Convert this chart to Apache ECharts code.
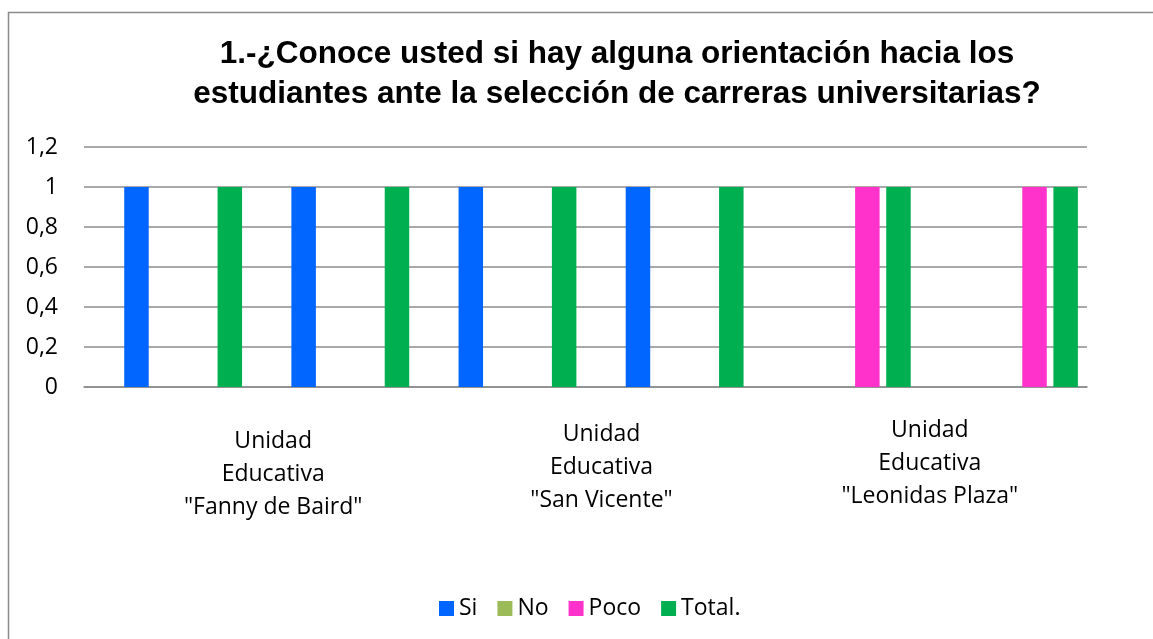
<!DOCTYPE html>
<html>
<head>
<meta charset="utf-8">
<script src="https://cdn.jsdelivr.net/npm/echarts@6/dist/echarts.min.js"></script>
<style>
html,body{margin:0;padding:0;background:#fff;}
#chart{width:1153px;height:639px;}
</style>
</head>
<body>
<div id="chart"></div>
<script>
// Data
const titleText = '1.-¿Conoce usted si hay alguna orientación hacia los\nestudiantes ante la selección de carreras universitarias?';
const rowCategories = ['Fanny de Baird (a)', 'Fanny de Baird (b)', 'San Vicente (a)', 'San Vicente (b)', 'Leonidas Plaza (a)', 'Leonidas Plaza (b)'];
const schoolLabels = ['Unidad\nEducativa\n"Fanny de Baird"', 'Unidad\nEducativa\n"San Vicente"', 'Unidad\nEducativa\n"Leonidas Plaza"'];
const seriesNames = ['Si', 'No', 'Poco', 'Total.'];
const blankValues = [null, null, null, null, null, null];
const siValues = [1, 1, 1, 1, 0, 0];
const noValues = [0, 0, 0, 0, 0, 0];
const pocoValues = [0, 0, 0, 0, 1, 1];
const totalValues = [1, 1, 1, 1, 1, 1];
const yTicks = [0, 0.2, 0.4, 0.6, 0.8, 1, 1.2];

const colors = ['#0066FF', '#9BBB59', '#FF33CC', '#00B050'];
const font = '"Open Sans", "Noto Sans", sans-serif';

const labelShift = [
  {padding: [11, 0, 0, 44]},
  {padding: [4, 0, 0, 32]},
  {padding: [0, 0, 0, 20]}
];

const chart = echarts.init(document.getElementById('chart'), null, {renderer: 'canvas'});

function bar(name, data, color) {
  return {
    name: name, type: 'bar', data: data, xAxisIndex: 0,
    barWidth: 24.5, barGap: '27%',
    itemStyle: {color: color},
    emphasis: {disabled: true}
  };
}

chart.setOption({
  animation: false,
  backgroundColor: '#ffffff',
  title: {
    text: titleText,
    left: 617, top: 34, padding: 0,
    textAlign: 'center',
    textStyle: {fontFamily: '"Liberation Sans", Arial, sans-serif', fontWeight: 'bold', fontSize: 31.5, lineHeight: 40, color: '#000'}
  },
  graphic: [{
    type: 'rect', silent: true,
    shape: {x: 8.5, y: 12.5, width: 1300, height: 800},
    style: {fill: 'none', stroke: '#8a8a8a', lineWidth: 1.5}
  }],
  legend: {
    data: seriesNames,
    left: 434, top: 592,
    icon: 'rect', itemWidth: 15, itemHeight: 15, itemGap: 20,
    textStyle: {fontFamily: font, fontSize: 23, color: '#000'}
  },
  grid: {left: 84, right: 66, top: 147, bottom: 252, containLabel: false},
  xAxis: [{
    type: 'category', data: rowCategories,
    axisLine: {show: true, lineStyle: {color: '#8c8c8c', width: 1.5}},
    axisTick: {show: false}, axisLabel: {show: false}
  }, {
    type: 'category', position: 'bottom',
    data: schoolLabels.map((s, i) => ({value: s, textStyle: labelShift[i]})),
    axisLine: {show: false}, axisTick: {show: false},
    axisLabel: {interval: 0, margin: 27, fontFamily: font, fontSize: 23, lineHeight: 33, color: '#000', align: 'center'}
  }],
  yAxis: {
    type: 'value', min: 0, max: 1.2, interval: 0.2,
    axisLine: {show: false}, axisTick: {show: false},
    splitLine: {lineStyle: {color: '#8c8c8c', width: 1.5}},
    axisLabel: {
      margin: 26, fontFamily: font, fontSize: 23, color: '#000',
      formatter: v => {
        const t = yTicks.find(k => Math.abs(k - v) < 1e-9);
        return String(t !== undefined ? t : v).replace('.', ',');
      }
    }
  },
  series: [
    Object.assign(bar('', blankValues, 'rgba(0,0,0,0)'), {legendHoverLink: false}),
    bar(seriesNames[0], siValues, colors[0]),
    bar(seriesNames[1], noValues, colors[1]),
    bar(seriesNames[2], pocoValues, colors[2]),
    bar(seriesNames[3], totalValues, colors[3])
  ]
});
</script>
</body>
</html>
